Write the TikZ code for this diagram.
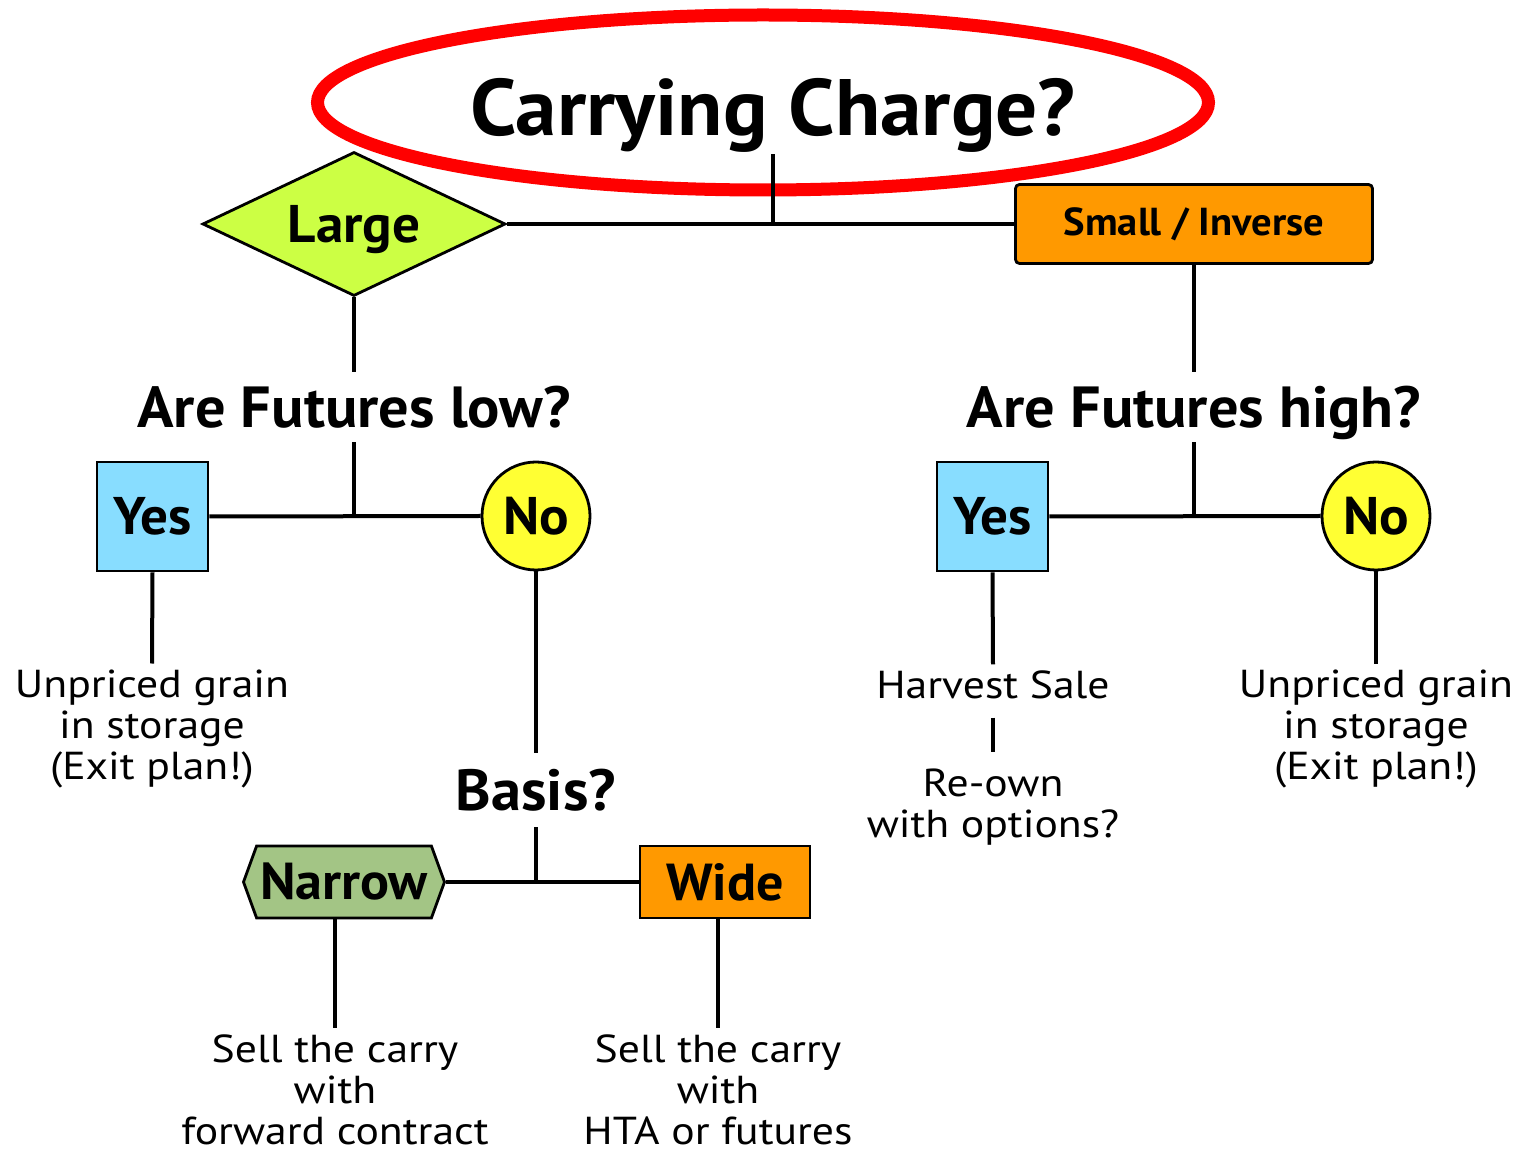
\documentclass[tikz,border=0pt]{standalone}
\usepackage{fontspec}
\setmainfont{PT Sans}[FakeStretch=1.12]
\newfontfamily\heavy{PT Sans}[FakeStretch=1.04]
\usetikzlibrary{shapes.geometric,shapes.symbols,positioning,calc}
\definecolor{largegreen}{HTML}{CCFF44}
\definecolor{boxorange}{HTML}{FF9900}
\definecolor{yesblue}{HTML}{88DDFF}
\definecolor{noyellow}{HTML}{FFFF33}
\definecolor{narrowgreen}{HTML}{A3C585}
\tikzset{
  conn/.style={line width=2pt},
  question/.style={font=\heavy\bfseries\fontsize{29}{31}\selectfont, inner sep=7pt, text depth=0pt},
  answer/.style={font=\fontsize{19.5}{20.5}\selectfont, align=center, inner sep=3pt},
  yesbox/.style={draw, line width=1.4pt, fill=yesblue, minimum width=55.5pt, minimum height=54.5pt, inner sep=0pt, font=\heavy\bfseries\fontsize{26.5}{28}\selectfont},
  nocircle/.style={circle, draw, line width=1.4pt, fill=noyellow, minimum size=54pt, inner sep=0pt, font=\heavy\bfseries\fontsize{26.5}{28}\selectfont},
  basisbox/.style={draw, line width=1.4pt, minimum height=36pt, inner sep=0pt, font=\heavy\bfseries\fontsize{26}{28}\selectfont}
}
\begin{document}
\begin{tikzpicture}[x=0.5pt, y=-0.5pt]
  \useasboundingbox (0,0) rectangle (1522,1149);
  \draw[red, line width=6.5pt] (763,102.5) ellipse [x radius=222.75pt, y radius=43.75pt];
  \node[font=\heavy\bfseries\fontsize{40}{42}\selectfont, inner sep=1pt] (title) at (773,115) {Carrying Charge?};
  \node[diamond, draw, line width=1.4pt, fill=largegreen, minimum width=151.5pt, minimum height=72pt, inner sep=0pt, font=\heavy\bfseries\fontsize{26.5}{28}\selectfont] (large) at (354,224) {\raisebox{-9.3pt}[0pt][0pt]{Large}};
  \node[draw, line width=1.4pt, rounded corners=2pt, fill=boxorange, minimum width=178.5pt, minimum height=39.5pt, inner sep=0pt, font=\heavy\bfseries\fontsize{19.5}{21}\selectfont] (small) at (1194,224) {Small / Inverse};
  \coordinate (topj) at (773,224);
  \draw[conn] (title.south) -- (topj);
  \draw[conn] (large.east) -- (small.west);
  % left branch
  \node[question] (futlow) at (354,407) {Are Futures low?};
  \node[yesbox] (yesL) at (152.5,516.5) {Yes};
  \node[nocircle] (noL) at (536,516) {No};
  \node[answer] (storeL) at (152,729) {Unpriced grain\\in storage\\(Exit plan!)};
  \node[question, inner sep=8pt] (basis) at (536,790) {Basis?};
  \node[basisbox, signal, signal to=west and east, signal pointer angle=140, fill=narrowgreen, minimum width=100.5pt] (narrow) at (344,882) {Narrow};
  \node[basisbox, fill=boxorange, minimum width=85pt] (wide) at (725,882) {Wide};
  \node[answer] (sellN) at (335,1090) {Sell the carry\\with\\forward contract};
  \node[answer] (sellW) at (718,1090) {Sell the carry\\with\\HTA or futures};
  \draw[conn] (large.south) -- (large.south |- futlow.north);
  \draw[conn] (futlow.south) -- (futlow.south |- yesL.east);
  \draw[conn] (yesL.east) -- (noL.west);
  \draw[conn] (yesL.south) -- (storeL.north);
  \draw[conn] (noL.south) -- (basis.north);
  \draw[conn] (basis.south) -- (basis.south |- narrow.east);
  \draw[conn] (narrow.east) -- (wide.west);
  \draw[conn] (sellN.north |- narrow.south) -- (sellN.north);
  \draw[conn] (sellW.north |- wide.south) -- (sellW.north);
  % right branch
  \node[question] (futhigh) at (1194,407) {Are Futures high?};
  \node[yesbox] (yesR) at (992.5,516.5) {Yes};
  \node[nocircle] (noR) at (1376,516) {No};
  \node[answer] (harvest) at (993,685) {Harvest Sale};
  \node[answer] (reown) at (993,807) {Re-own\\with options?};
  \node[answer] (storeR) at (1376,729) {Unpriced grain\\in storage\\(Exit plan!)};
  \draw[conn] (small.south) -- (small.south |- futhigh.north);
  \draw[conn] (futhigh.south) -- (futhigh.south |- yesR.east);
  \draw[conn] (yesR.east) -- (noR.west);
  \draw[conn] (yesR.south) -- (harvest.north);
  \draw[conn, shorten <=6pt, shorten >=5pt] (harvest.south) -- (reown.north);
  \draw[conn] (noR.south) -- (storeR.north);
\end{tikzpicture}
\end{document}
